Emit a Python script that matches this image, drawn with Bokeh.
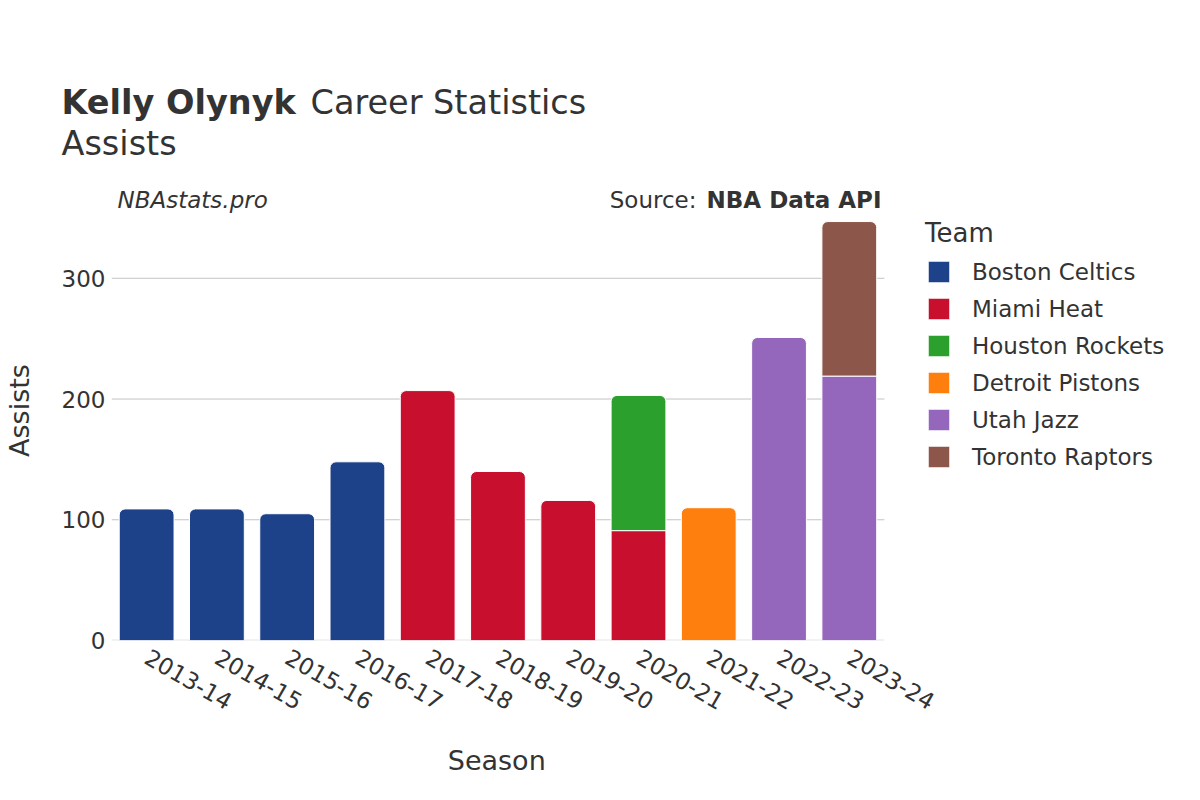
import math
from bokeh.plotting import figure
from bokeh.layouts import column
from bokeh.models import (ColumnDataSource, FactorRange, Range1d, Label, Legend, LegendItem,
                          FixedTicker)
from bokeh.embed import file_html
from bokeh.resources import INLINE

seasons = ["2013-14", "2014-15", "2015-16", "2016-17", "2017-18", "2018-19",
           "2019-20", "2020-21", "2021-22", "2022-23", "2023-24"]
teams = ["Boston Celtics", "Miami Heat", "Houston Rockets", "Detroit Pistons",
         "Utah Jazz", "Toronto Raptors"]
colors = ["#1d428a", "#c8102e", "#2ca02c", "#ff7f0e", "#9467bd", "#8c564b"]
boston = [109, 109, 105, 148, 0, 0, 0, 0, 0, 0, 0]
miami = [0, 0, 0, 0, 207, 140, 116, 91, 0, 0, 0]
houston = [0, 0, 0, 0, 0, 0, 0, 112, 0, 0, 0]
detroit = [0, 0, 0, 0, 0, 0, 0, 0, 110, 0, 0]
utah = [0, 0, 0, 0, 0, 0, 0, 0, 0, 251, 219]
toronto = [0, 0, 0, 0, 0, 0, 0, 0, 0, 0, 128]
values = [boston, miami, houston, detroit, utah, toronto]
y_ticks = [0, 100, 200, 300]

FONT = "DejaVu Sans"
TXT = "#333333"

def lab(fig, text, x, y, size, style="normal", align="left"):
    fig.add_layout(Label(text=text, x=x, y=y, x_units="screen", y_units="screen",
                         text_font=FONT, text_font_size=size, text_font_style=style,
                         text_color=TXT, text_align=align, text_baseline="alphabetic"))

# ---- title strip ----
TH = 180
t = figure(width=1200, height=TH, x_range=Range1d(0, 1200), y_range=Range1d(0, TH),
           x_axis_type=None, y_axis_type=None, output_backend="svg", toolbar_location=None,
           min_border=0)
t.frame_align = False
t.outline_line_color = None
t.grid.visible = False
lab(t, "Kelly Olynyk", 61, TH - 102, "33.5px", "bold")
lab(t, "Career Statistics", 310, TH - 102, "33.5px")
lab(t, "Assists", 61, TH - 143, "33.5px")

# ---- main chart ----
# blank slots to the right leave room inside the frame for the legend
blanks = [" " * (k + 1) for k in range(4)]
p = figure(width=1200, height=800 - TH,
           x_range=FactorRange(factors=seasons + blanks, range_padding=0),
           y_range=Range1d(0, 381), output_backend="svg", toolbar_location=None,
           min_border_left=108, min_border_right=35, min_border_top=0, min_border_bottom=160)
p.frame_align = False
p.outline_line_color = None
p.background_fill_color = "white"

# horizontal grid lines spanning the seasons only
for tk in y_ticks:
    p.segment(x0=0, x1=len(seasons), y0=tk, y1=tk,
              line_color="#e6e6e6" if tk == 0 else "#c4c4c4",
              line_width=2 if tk == 0 else 1)

n = len(seasons)
totals = [sum(v[i] for v in values) for i in range(n)]
bottoms = [0] * n
legend_items = []
for team, col, vals in zip(teams, colors, values):
    top_d = dict(x=[], b=[], t=[])
    low_d = dict(x=[], b=[], t=[])
    for i in range(n):
        if vals[i] <= 0:
            continue
        b = bottoms[i]
        tp = b + vals[i]
        d = top_d if abs(tp - totals[i]) < 1e-9 else low_d
        d["x"].append(seasons[i]); d["b"].append(b); d["t"].append(tp)
        bottoms[i] = tp
    rs = []
    if top_d["x"]:
        rs.append(p.vbar(x="x", bottom="b", top="t", width=0.78, source=ColumnDataSource(top_d),
                         fill_color=col, line_color="white", line_width=1,
                         border_radius=(6, 6, 0, 0)))
    if low_d["x"]:
        rs.append(p.vbar(x="x", bottom="b", top="t", width=0.78, source=ColumnDataSource(low_d),
                         fill_color=col, line_color="white", line_width=1))
    legend_items.append(LegendItem(label=team, renderers=rs[:1]))

p.yaxis.ticker = FixedTicker(ticks=y_ticks)
p.yaxis.axis_line_color = None
p.yaxis.major_tick_line_color = None
p.yaxis.minor_tick_line_color = None
p.yaxis.major_label_standoff = 0
p.yaxis.major_label_text_font = FONT
p.yaxis.major_label_text_font_size = "23px"
p.yaxis.major_label_text_color = TXT
p.yaxis.axis_label = "Assists"
p.yaxis.axis_label_text_font = FONT
p.yaxis.axis_label_text_font_style = "normal"
p.yaxis.axis_label_text_font_size = "27px"
p.yaxis.axis_label_text_color = TXT
p.yaxis.axis_label_standoff = 24

p.xaxis.axis_line_color = None
p.xaxis.major_tick_line_color = None
p.xaxis.minor_tick_line_color = None
p.xaxis.major_label_overrides = {b: "" for b in blanks}
p.xaxis.major_label_orientation = -math.pi / 6
p.xaxis.major_label_standoff = 9
p.xaxis.major_label_text_font = FONT
p.xaxis.major_label_text_font_size = "23px"
p.xaxis.major_label_text_color = TXT
# trailing non-collapsing spaces centre the word under the seasons, not the whole frame
p.xaxis.axis_label = "Season" + "\u2003" * 10 + "\u2002"
p.xaxis.axis_label_text_font = FONT
p.xaxis.axis_label_text_font_style = "normal"
p.xaxis.axis_label_text_font_size = "27px"
p.xaxis.axis_label_text_color = TXT
p.xaxis.axis_label_standoff = 16

p.grid.visible = False

legend = Legend(items=legend_items, location=(814, 170), padding=0, margin=0,
                border_line_color=None, background_fill_alpha=0,
                glyph_width=27, glyph_height=27, label_standoff=20, spacing=10,
                label_text_font=FONT, label_text_font_size="23px", label_text_color=TXT,
                title="Team", title_text_font=FONT, title_text_font_size="26px",
                title_text_font_style="normal", title_text_color=TXT, title_standoff=10)
p.add_layout(legend, "center")

lab(p, "NBAstats.pro", 6, 441, "23px", "italic")
lab(p, "Source:", 585, 441, "23px", align="right")
lab(p, "NBA Data API", 770, 441, "23px", "bold", align="right")

open("out.html", "w").write(file_html(column(t, p), INLINE))
